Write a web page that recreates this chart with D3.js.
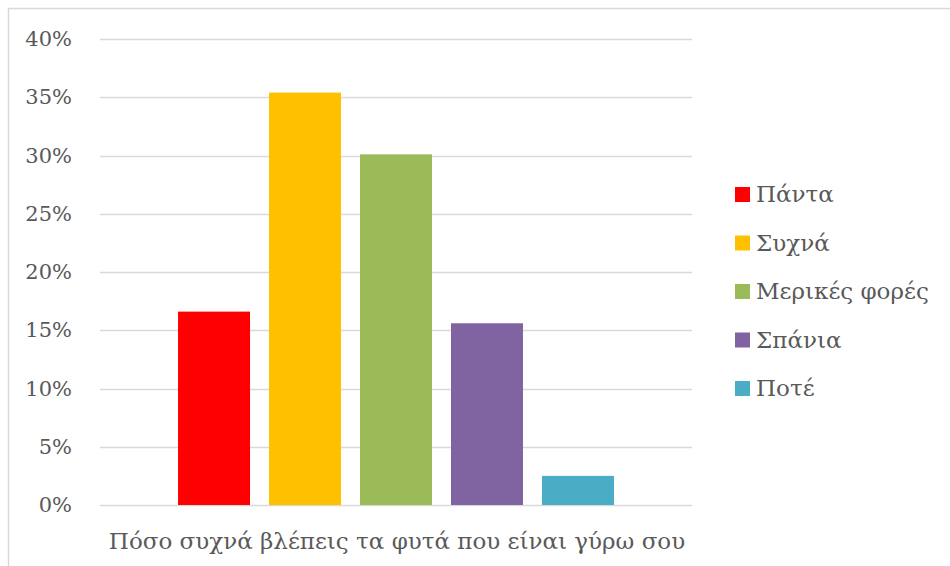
<!DOCTYPE html>
<html>
<head>
<meta charset="utf-8">
<script src="https://cdn.jsdelivr.net/npm/d3@7"></script>
<style>
  body { margin: 0; background: #fff; }
  text { font-family: "DejaVu Serif", serif; fill: #595959; }
</style>
</head>
<body>
<div id="chart"></div>
<script>
// Data
const category = "Πόσο συχνά βλέπεις τα φυτά που είναι γύρω σου";
const seriesNames = ["Πάντα", "Συχνά", "Μερικές φορές", "Σπάνια", "Ποτέ"];
const seriesValues = [0.166, 0.354, 0.301, 0.156, 0.025];
const seriesColors = ["#ff0000", "#ffc000", "#9bbb59", "#8064a2", "#4bacc6"];
const yTicks = [0, 0.05, 0.10, 0.15, 0.20, 0.25, 0.30, 0.35, 0.40];

const W = 950, H = 566;
const margin = {top: 39, right: 258, bottom: 60, left: 100};
const width = W - margin.left - margin.right;
const height = H - margin.top - margin.bottom - 1;

const svgRoot = d3.select("#chart")
  .append("svg")
  .attr("width", W)
  .attr("height", H);

// chart area border
svgRoot.append("rect")
  .attr("x", 8.5)
  .attr("y", 8.5)
  .attr("width", W + 10)
  .attr("height", H + 10)
  .attr("fill", "none")
  .attr("stroke", "#d9d9d9")
  .attr("stroke-width", 1.5);

const svg = svgRoot.append("g")
  .attr("transform", `translate(${margin.left},${margin.top})`);

const data = seriesNames.map((name, i) => ({name, value: seriesValues[i], color: seriesColors[i]}));

// Outer band (single category), inner band per series
const x0 = d3.scaleBand()
  .domain([category])
  .range([0, width])
  .paddingInner(0)
  .paddingOuter(0.1245);

const x1 = d3.scaleBand()
  .domain(seriesNames)
  .range([0, x0.bandwidth()])
  .padding(0.209);

const y = d3.scaleLinear()
  .domain([0, 0.4])
  .range([height, 0]);

// gridlines
svg.append("g")
  .selectAll("line")
  .data(yTicks)
  .join("line")
  .attr("x1", 0)
  .attr("x2", width)
  .attr("y1", d => Math.round(y(d)) + 0.5)
  .attr("y2", d => Math.round(y(d)) + 0.5)
  .attr("stroke", "#d9d9d9")
  .attr("stroke-width", 1.5);

// y axis labels
svg.append("g")
  .call(d3.axisLeft(y).tickValues(yTicks).tickFormat(d3.format(".0%")).tickSize(0).tickPadding(28))
  .call(g => g.select(".domain").remove())
  .selectAll("text")
  .style("font-size", "21px")
  .style("font-family", "'DejaVu Serif', serif")
  .attr("fill", "#595959");

// bars
svg.append("g")
  .attr("transform", `translate(${x0(category)},0)`)
  .selectAll("rect")
  .data(data)
  .join("rect")
  .attr("x", d => x1(d.name))
  .attr("y", d => y(d.value))
  .attr("width", x1.bandwidth())
  .attr("height", d => y(0) - y(d.value))
  .attr("fill", d => d.color);

// category label
svg.append("text")
  .attr("x", x0(category) + x0.bandwidth() / 2 + 1)
  .attr("y", height + 44)
  .style("text-anchor", "middle")
  .style("font-size", "23px")
  .text(category);

// legend
const legend = svgRoot.append("g")
  .attr("transform", "translate(735,187)");

const row = legend.selectAll("g")
  .data(data)
  .join("g")
  .attr("transform", (_, i) => `translate(0,${i * 48.5})`);

row.append("rect")
  .attr("width", 15)
  .attr("height", 15)
  .attr("fill", d => d.color);

row.append("text")
  .attr("x", 21)
  .attr("y", 15)
  .style("font-size", "23px")
  .text(d => d.name);
</script>
</body>
</html>
